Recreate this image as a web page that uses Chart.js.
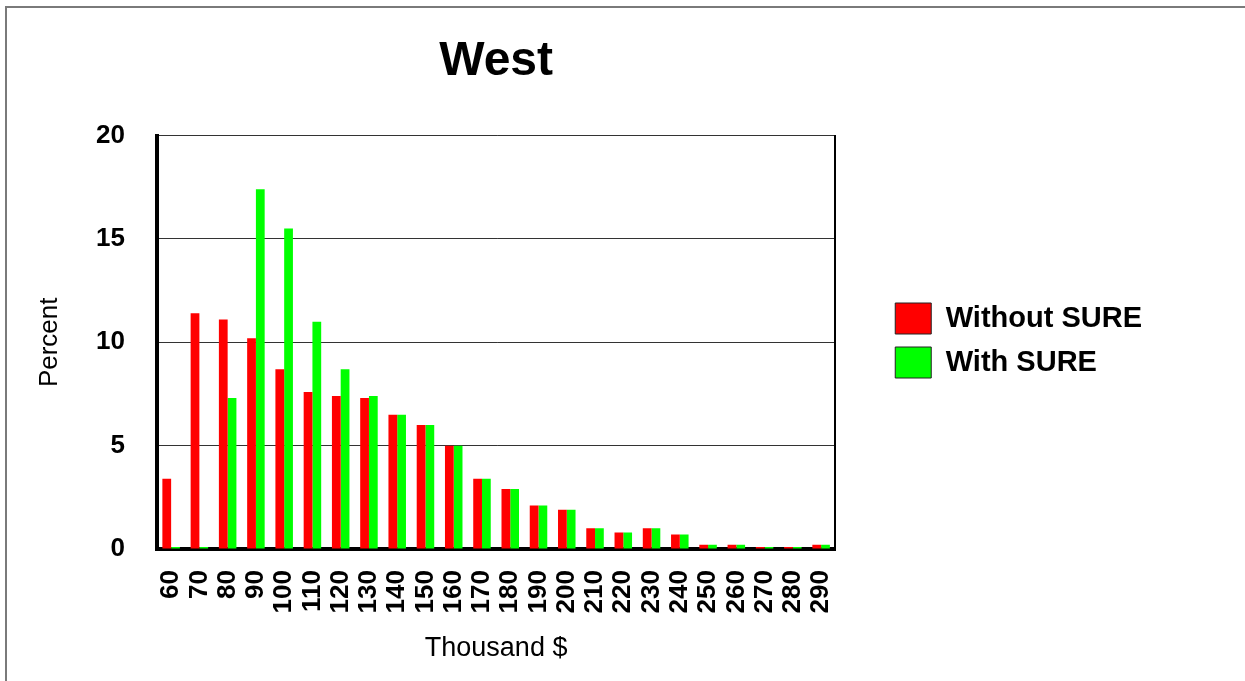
<!DOCTYPE html>
<html>
<head>
<meta charset="utf-8">
<script src="https://cdn.jsdelivr.net/npm/chart.js@4"></script>
<style>
  html, body { margin: 0; padding: 0; background: #fff; }
  #wrap { position: relative; width: 1245px; height: 681px; overflow: hidden; }
  #frame { position: absolute; left: 5px; top: 6px; width: 1250px; height: 690px;
           border-top: 2px solid #7a7a7a; border-left: 2px solid #7a7a7a; pointer-events: none; }
  canvas { display: block; }
</style>
</head>
<body>
<div id="wrap">
  <canvas id="c" width="1245" height="681"></canvas>
  <div id="frame"></div>
</div>
<script>
const chartTitle = 'West';
const xAxisTitle = 'Thousand $';
const yAxisTitle = 'Percent';
const seriesNames = ['Without SURE', 'With SURE'];
const incomeLabels = ['60','70','80','90','100','110','120','130','140','150','160','170',
                      '180','190','200','210','220','230','240','250','260','270','280','290'];
const withoutSure = [3.4, 11.4, 11.1, 10.2, 8.7, 7.6, 7.4, 7.3, 6.5, 6.0, 5.0, 3.4,
                     2.9, 2.1, 1.9, 1.0, 0.8, 1.0, 0.7, 0.2, 0.2, 0.1, 0.1, 0.2];
const withSure    = [0.1, 0.1, 7.3, 17.4, 15.5, 11.0, 8.7, 7.4, 6.5, 6.0, 5.0, 3.4,
                     2.9, 2.1, 1.9, 1.0, 0.8, 1.0, 0.7, 0.2, 0.2, 0.1, 0.1, 0.2];
const yTicks = [0, 5, 10, 15, 20];

const FONT = "'Liberation Sans', Arial, Helvetica, sans-serif";

new Chart(document.getElementById('c'), {
  type: 'bar',
  data: {
    labels: incomeLabels,
    datasets: [
      { label: seriesNames[0], data: withoutSure, backgroundColor: '#ff0000', borderWidth: 0,
        categoryPercentage: 0.62, barPercentage: 1.0 },
      { label: seriesNames[1], data: withSure, backgroundColor: '#00ff00', borderWidth: 0,
        categoryPercentage: 0.62, barPercentage: 1.0 }
    ]
  },
  options: {
    responsive: false,
    animation: false,
    devicePixelRatio: 1,
    layout: { padding: { left: 0, right: 93, top: 0, bottom: 0 } },
    plugins: {
      title: {
        display: true, text: chartTitle, fullSize: false, color: '#000',
        font: { family: FONT, size: 48, weight: 'bold' },
        padding: { top: 33, bottom: 45 }
      },
      legend: {
        position: 'right', align: 'center', maxWidth: 400,
        labels: {
          boxWidth: 36, boxHeight: 31, padding: 13, color: '#000',
          font: { family: FONT, size: 29, weight: 'bold' },
          generateLabels(chart) {
            const items = Chart.defaults.plugins.legend.labels.generateLabels(chart);
            items.forEach(it => { it.strokeStyle = '#222'; it.lineWidth = 1; });
            return items;
          }
        }
      },
      tooltip: { enabled: false }
    },
    scales: {
      x: {
        grid: { display: true, drawOnChartArea: false, drawTicks: false },
        border: { display: true, color: '#000', width: 4 },
        ticks: { color: '#000', font: { family: FONT, size: 26, weight: 'bold' },
                 maxRotation: 90, minRotation: 90, padding: 21, autoSkip: false },
        title: { display: true, text: xAxisTitle, color: '#000',
                 font: { family: FONT, size: 27 }, padding: { top: 0, bottom: 16 } },
        afterFit(s) { s.height = 132; }
      },
      y: {
        min: yTicks[0], max: yTicks[yTicks.length - 1],
        afterBuildTicks(s) { s.ticks = yTicks.map(v => ({ value: v })); },
        ticks: { color: '#000', font: { family: FONT, size: 26, weight: 'bold' }, padding: 32 },
        grid: { color: '#333', lineWidth: 1, drawTicks: false },
        border: { color: '#000', width: 4 },
        title: { display: true, text: yAxisTitle, color: '#000',
                 font: { family: FONT, size: 26 }, padding: { top: 34, bottom: 0 } },
        afterFit(s) { s.width = 157; }
      },
      y2: {
        position: 'right', min: 0, max: 20,
        ticks: { display: false },
        grid: { drawOnChartArea: false, drawTicks: false },
        border: { color: '#000', width: 2 },
        afterFit(s) { s.width = 47; }
      }
    }
  }
});
</script>
</body>
</html>
